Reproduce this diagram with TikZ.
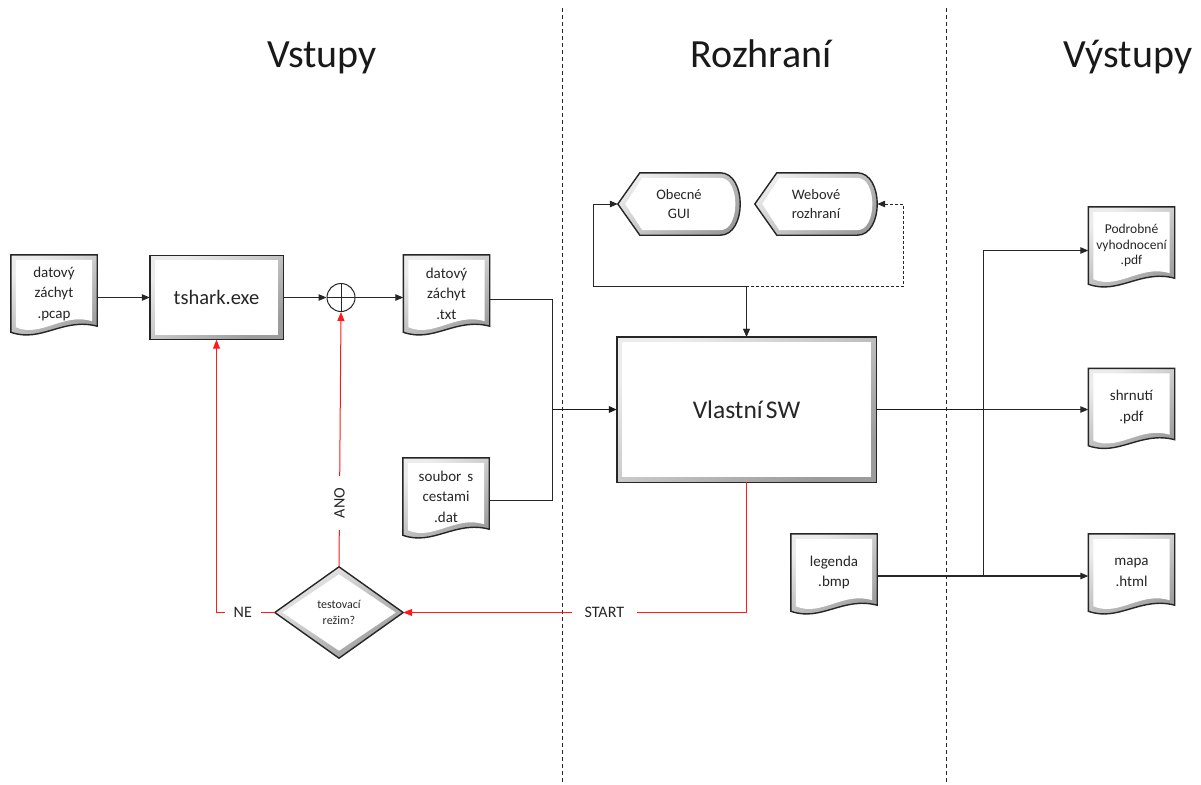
\documentclass[tikz,border=0pt]{standalone}
\usepackage{fontspec}
\setmainfont{Carlito}
\usetikzlibrary{arrows.meta,calc,backgrounds}
\newcommand\docpath[2]{($(#1.north west)+(#2,#2)$) -- ($(#1.north east)+(-#2,#2)$) -- ($(#1.south east)+(-#2,-6-#2)$) .. controls ($(#1.south east)+(-34,-15-#2)$) and ($(#1.south west)+(30,11-#2)$) .. ($(#1.south west)+(#2,-#2)$) -- cycle}
\newcommand\disppath[2]{($(#1.west)+(1.5*#2,0)$) -- ($(#1.north west)+(22+0.5*#2,#2)$) -- ($(#1.north east)+(-20,#2)$) .. controls ($(#1.north east)+(6.7-1.3*#2,#2)$) and ($(#1.south east)+(6.7-1.3*#2,-#2)$) .. ($(#1.south east)+(-20,-#2)$) -- ($(#1.south west)+(22+0.5*#2,-#2)$) -- cycle}
\newcommand\diapath[2]{($(#1.west)+(1.5*#2,0)$) -- ($(#1.north)+(0,1.5*#2)$) -- ($(#1.east)+(-1.5*#2,0)$) -- ($(#1.south)+(0,-1.5*#2)$) -- cycle}
\newcommand\recpath[2]{($(#1.north west)+(#2,#2)$) rectangle ($(#1.south east)+(-#2,-#2)$)}
\newcommand\bevelshape[2]{%
  \shade[bevelshade] #1{#2}{0};
  \fill[white,shift={(-2,-2)}] #1{#2}{5};
  \draw[shapeborder] #1{#2}{0};}
\tikzset{
  bevelshade/.style={top color=gray!15, bottom color=gray!78, shading angle=35},
  shapeborder/.style={draw=black!85, line width=1.4pt, line join=miter},
  docn/.style={minimum width=86pt, minimum height=77pt, inner sep=0pt, align=center,
    font=\fontsize{15}{20.5}\selectfont, text=black!85},
  boxn/.style={inner sep=0pt, align=center, font=\fontsize{20.5}{24}\selectfont, text=black!85},
  dispn/.style={minimum width=122pt, minimum height=62pt, inner sep=0pt, align=center,
    font=\fontsize{14.5}{18.5}\selectfont, text=black!85},
  dian/.style={minimum width=128pt, minimum height=91pt, inner sep=0pt, align=center,
    font=\fontsize{12}{15.5}\selectfont, text=black!85},
  titlen/.style={anchor=base, font=\fontsize{40}{44}\selectfont, text=black!90},
  wire/.style={line width=1pt, draw=black!85},
  thickwire/.style={line width=1.8pt, draw=black!90},
  tip/.tip={Triangle[length=8pt,width=6.5pt]},
  conn/.style={wire, -tip},
  redconn/.style={line width=1pt, draw=red!90, -{Triangle[length=9pt,width=7pt]}},
  redlab/.style={fill=white, inner ysep=2pt, font=\fontsize{16}{18}\selectfont, text=black!85},
  divider/.style={line width=0.9pt, draw=black!85, dash pattern=on 4pt off 3pt},
}
\begin{document}
\begin{tikzpicture}[x=1pt,y=-1pt]
\useasboundingbox (0,0) rectangle (1201,784);

% dividers
\draw[divider] (562,8) -- (562,784);
\draw[divider] (946,8) -- (946,784);

% titles
\node[titlen] (tin) at (322,67) {Vstupy};
\node[titlen] (tmid) at (761,67) {Rozhraní};
\node[titlen] (tout) at (1128,67) {Výstupy};

% nodes
\node[docn] (pcap) at (54,293.5) {datový\\záchyt\\.pcap};
\node[boxn, minimum width=133pt, minimum height=84pt] (tshark) at (216.5,297.5) {tshark.exe};
\node[circle, draw=black!85, line width=1pt, minimum size=28pt, inner sep=0pt] (sum) at (341,297.5) {};
\draw[line width=1pt, black!85] (sum.north) -- (sum.south) (sum.west) -- (sum.east);
\node[docn] (txt) at (446.5,293.5) {datový\\záchyt\\.txt};
\node[docn] (dat) at (446,496.5) {soubor\hspace{0.4em}s\\cestami\\.dat};
\node[boxn, minimum width=259pt, minimum height=145pt, font=\fontsize{25.5}{30}\selectfont] (sw) at (746.5,409.5) {Vlastní\hspace{-0.1em} SW};
\node[dispn] (gui) at (679,204) {Obecné\\GUI};
\node[dispn] (web) at (816,204) {Webové\\rozhraní};
\node[docn, font=\fontsize{13.5}{15.5}\selectfont] (pod) at (1131.5,245.5) {Podrobné\\vyhodnocení\\.pdf};
\node[docn] (shr) at (1131.5,407) {shrnutí\\.pdf};
\node[docn] (mapa) at (1131.5,572.5) {mapa\\.html};
\node[docn] (leg) at (834,572.5) {legenda\\.bmp};
\node[dian] (test) at (339,612.5) {testovací\\režim?};

% shapes on background
\begin{pgfonlayer}{background}
\bevelshape\docpath{pcap}
\bevelshape\docpath{txt}
\bevelshape\docpath{dat}
\bevelshape\docpath{pod}
\bevelshape\docpath{shr}
\bevelshape\docpath{mapa}
\bevelshape\docpath{leg}
\bevelshape\recpath{tshark}
\bevelshape\recpath{sw}
\bevelshape\disppath{gui}
\bevelshape\disppath{web}
\bevelshape\diapath{test}
\end{pgfonlayer}

% junction coordinates
\path (sw.west) ++(-64,0) coordinate (jin);
\path (sw.east) ++(107,0) coordinate (jout);
\path (sw.north) ++(0,-50) coordinate (jtop);

% black connectors
\draw[conn] (pcap.east |- tshark.west) -- (tshark.west);
\draw[conn] (tshark.east) -- (sum.west);
\draw[conn] (sum.east) -- (txt.west |- sum.east);
\draw[wire] ([yshift=-6pt]txt.east) -| (jin);
\draw[wire] ([yshift=-4pt]dat.east) -| (jin);
\draw[thickwire, -tip] (jin) -- (sw.west);
\draw[thickwire] (sw.east) -- (jout);
\draw[conn] (jout) |- ([yshift=-5pt]pod.west);
\draw[conn] (jout) -- (shr.west |- jout);
\draw[wire] (jout) -- (jout |- mapa.west) -- ++(0,3.5);
\draw[wire, line width=1.4pt, -tip] ([yshift=-3.5pt]leg.east) -- ([yshift=-3.5pt]mapa.west);
\draw[wire, dash pattern=on 3pt off 2pt, tip-tip] (web.east) -- ++(26,0) |- (jtop) -- (sw.north);
\draw[wire, tip-tip] (gui.west) -- ++(-24,0) |- (jtop) -- (sw.north);

% red connectors
\draw[redconn] (sw.south) -- (sw.south |- test.east) -- node[redlab, pos=0.414, inner xsep=12.5pt] {START} (test.east);
\draw[redconn] (test.west) -- node[redlab, pos=0.55, inner xsep=9pt] {NE} (tshark.south |- test.west) -- (tshark.south);
\draw[redconn] (test.north) -- node[redlab, pos=0.25, rotate=90, inner xsep=12pt] {ANO} (sum.south);
\end{tikzpicture}
\end{document}
